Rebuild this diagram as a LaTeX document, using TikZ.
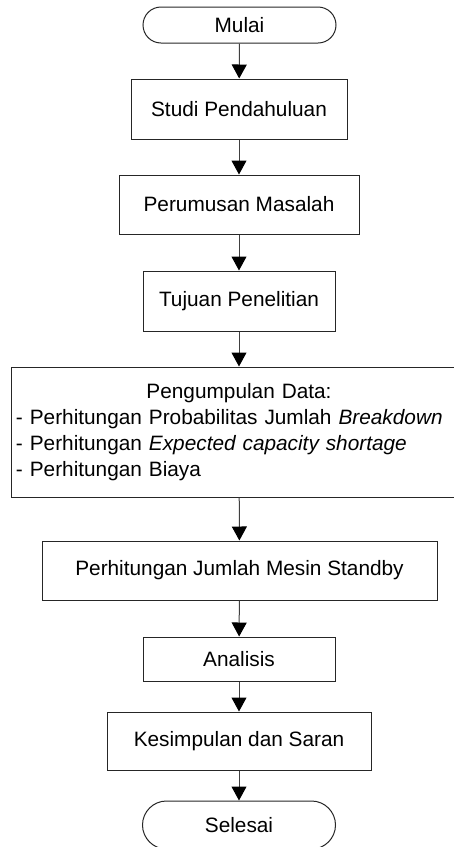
\documentclass[tikz,border=0pt]{standalone}
\usepackage{fontspec}
\setmainfont{Liberation Sans}
\usepackage{tikz}
\usetikzlibrary{positioning,shapes,arrows.meta}

\begin{document}
\begin{tikzpicture}[x=1pt,y=-1pt,
  every node/.style={font=\fontsize{20.8}{26}\selectfont},
  proc/.style={draw=black!85, line width=1pt, inner sep=0pt, align=center},
  term/.style={proc, minimum width=193pt, rounded corners=#1},
  flow/.style={draw=black!75, line width=1pt, -{Triangle[width=15pt,length=14pt,color=black]}}]

\useasboundingbox (0,0) rectangle (454,847);
\clip (0,0) rectangle (454,847);

% start and steps
\node[term=18pt, minimum height=36pt] (mulai) at (239.5,25) {Mulai};
\node[proc, minimum width=216pt, minimum height=60pt] (studi) at (239,109) {Studi Pendahuluan};
\node[proc, minimum width=240pt, minimum height=59pt] (rumusan) at (239,204.5) {Perumusan Masalah};
\node[proc, minimum width=192pt, minimum height=60pt] (tujuan) at (239,301) {Tujuan Penelitian};

% data collection
\node[proc, minimum width=456pt, minimum height=130pt, text width=446pt, align=left] (data) at (239,432)
  {\makebox[\linewidth][c]{Pengumpulan Data:}\\
   - Perhitungan Probabilitas Jumlah \textit{Breakdown}\\
   - Perhitungan \textit{Expected capacity shortage}\\
   - Perhitungan Biaya};

\node[proc, minimum width=395pt, minimum height=59pt] (mesin) at (239.5,570.5) {Perhitungan Jumlah Mesin Standby};
\node[proc, minimum width=192pt, minimum height=44pt] (analisis) at (239,659) {Analisis};
\node[proc, minimum width=264pt, minimum height=58pt] (simpul) at (239,741) {Kesimpulan dan Saran};
\node[term=24pt, minimum height=48pt] (selesai) at (239,825) {Selesai};

% arrows
\foreach \a/\b in {mulai/studi, studi/rumusan, rumusan/tujuan, tujuan/data,
                   data/mesin, mesin/analisis, analisis/simpul, simpul/selesai}
  \draw[flow] (\a) -- (\b);

\end{tikzpicture}
\end{document}
